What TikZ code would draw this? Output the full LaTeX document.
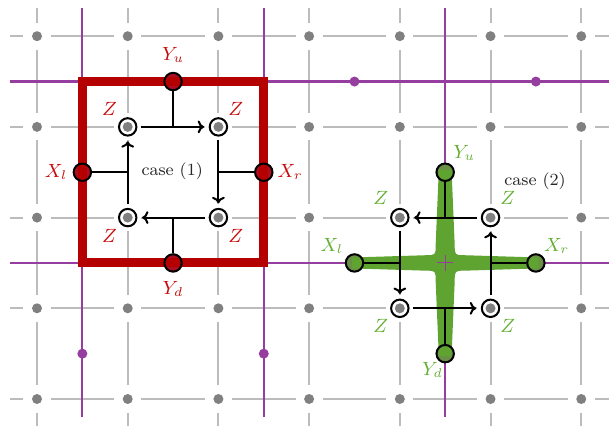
\documentclass[tikz,border=0pt]{standalone}
\usetikzlibrary{arrows.meta}
\definecolor{gridgray}{RGB}{188,188,188}
\definecolor{dotgray}{RGB}{128,128,128}
\definecolor{purp}{RGB}{150,62,160}
\definecolor{darkred}{RGB}{180,0,0}
\definecolor{labred}{RGB}{200,10,10}
\definecolor{crossgreen}{RGB}{95,163,48}
\definecolor{labgreen}{RGB}{100,175,50}
\tikzset{
  gridline/.style={draw=gridgray,line width=0.95pt},
  gdot/.style={circle,fill=dotgray,inner sep=0pt,minimum size=4.7pt},
  purpline/.style={draw=purp,line width=1pt},
  pdot/.style={circle,fill=purp,inner sep=0pt,minimum size=4.7pt},
  pfill/.style={circle,inner sep=0pt,minimum size=8.2pt},
  ring/.style={circle,draw=black,line width=0.95pt,inner sep=0pt,minimum size=8.2pt},
  tline/.style={draw=black,line width=0.95pt},
  arr/.style={draw=black,line width=0.95pt,-{To[length=3pt,width=6pt]},shorten <=1.6pt,shorten >=2.2pt},
  labr/.style={text=labred,font=\small,inner sep=0pt},
  labg/.style={text=labgreen,font=\small,inner sep=0pt},
  casetxt/.style={text=black!85,font=\footnotesize,inner sep=0pt}
}
\begin{document}
\begin{tikzpicture}[x=1.5cm,y=1.5cm]
\useasboundingbox (-0.408,-0.320) rectangle (6.306,4.399);
% gray grid
\foreach \i in {0,...,6} {
  \foreach \j in {0,...,3} { \draw[gridline] (\i,\j+0.15) -- (\i,\j+0.85); }
  \draw[gridline] (\i,-0.3) -- (\i,-0.15);
  \draw[gridline] (\i,4.15) -- (\i,4.31);
}
\foreach \j in {0,...,4} {
  \foreach \i in {0,...,5} { \draw[gridline] (\i+0.15,\j) -- (\i+0.85,\j); }
  \draw[gridline] (-0.3,\j) -- (-0.15,\j);
  \draw[gridline] (6.15,\j) -- (6.31,\j);
}
\foreach \i in {0,...,6} { \foreach \j in {0,...,4} { \node[gdot] at (\i,\j) {}; } }
% purple lines
\draw[purpline] (0.5,-0.2) -- (0.5,4.31);
\draw[purpline] (2.5,-0.2) -- (2.5,4.31);
\draw[purpline] (4.5,-0.2) -- (4.5,4.31);
\draw[purpline] (-0.3,1.5) -- (6.31,1.5);
\draw[purpline] (-0.3,3.5) -- (6.31,3.5);
\node[pdot] at (0.5,0.5) {};
\node[pdot] at (2.5,0.5) {};
\node[pdot] at (3.5,3.5) {};
\node[pdot] at (5.5,3.5) {};
% fills under X/Y rings
\foreach \p in {(1.5,3.5),(0.5,2.5),(2.5,2.5),(1.5,1.5)} { \node[pfill,fill=darkred!80!purp] at \p {}; }
\foreach \p in {(4.5,2.5),(3.5,1.5),(5.5,1.5),(4.5,0.5)} { \node[pfill,fill=crossgreen!80!purp] at \p {}; }
% case 1 red square
\draw[draw=darkred,line width=4.2pt] (0.5,1.5) rectangle (2.5,3.5);
% case 2 green cross
\begin{scope}[shift={(4.5,1.5)}]
\fill[crossgreen] (-1.03,0.06) -- (-0.22,0.085) .. controls (-0.105,0.085) .. (-0.105,0.2) -- (-0.07,1.03) -- (0.07,1.03) -- (0.105,0.2) .. controls (0.105,0.085) .. (0.22,0.085) -- (1.03,0.06) -- (1.03,-0.06) -- (0.22,-0.085) .. controls (0.105,-0.085) .. (0.105,-0.2) -- (0.07,-1.03) -- (-0.07,-1.03) -- (-0.105,-0.2) .. controls (-0.105,-0.085) .. (-0.22,-0.085) -- (-1.03,-0.06) -- cycle;
\draw[draw=purp,line width=0.5pt] (-0.09,0) -- (0.09,0) (0,-0.09) -- (0,0.09);
\end{scope}
% case 1 nodes
\node[ring] (yu1) at (1.5,3.5) {};
\node[ring] (xl1) at (0.5,2.5) {};
\node[ring] (xr1) at (2.5,2.5) {};
\node[ring] (yd1) at (1.5,1.5) {};
\node[ring] (z13) at (1,3) {};
\node[ring] (z23) at (2,3) {};
\node[ring] (z12) at (1,2) {};
\node[ring] (z22) at (2,2) {};
% case 2 nodes
\node[ring] (yu2) at (4.5,2.5) {};
\node[ring] (xl2) at (3.5,1.5) {};
\node[ring] (xr2) at (5.5,1.5) {};
\node[ring] (yd2) at (4.5,0.5) {};
\node[ring] (z42) at (4,2) {};
\node[ring] (z52) at (5,2) {};
\node[ring] (z41) at (4,1) {};
\node[ring] (z51) at (5,1) {};
% case 1 connectors
\draw[tline] (yu1) -- (yu1 |- z13);
\draw[tline] (xr1) -- (xr1 -| z23);
\draw[tline] (yd1) -- (yd1 |- z12);
\draw[tline] (xl1) -- (xl1 -| z12);
\draw[arr] (z13) -- (z23);
\draw[arr] (z23) -- (z22);
\draw[arr] (z22) -- (z12);
\draw[arr] (z12) -- (z13);
% case 2 connectors
\draw[tline] (yu2) -- (yu2 |- z42);
\draw[tline] (xl2) -- (xl2 -| z42);
\draw[tline] (xr2) -- (xr2 -| z52);
\draw[tline] (yd2) -- (yd2 |- z41);
\draw[arr] (z52) -- (z42);
\draw[arr] (z42) -- (z41);
\draw[arr] (z41) -- (z51);
\draw[arr] (z51) -- (z52);
% case 1 labels
\node[labr] (lyu1) at (1.5,3.79) {$Y_u$};
\node[labr] (lz13) at (0.80,3.20) {$Z$};
\node[labr] (lz23) at (2.19,3.20) {$Z$};
\node[labr] (lxl1) at (0.21,2.50) {$X_l$};
\node[labr] (lxr1) at (2.79,2.50) {$X_r$};
\node[labr] (lz12) at (0.80,1.80) {$Z$};
\node[labr] (lz22) at (2.19,1.80) {$Z$};
\node[labr] (lyd1) at (1.5,1.21) {$Y_d$};
\node[casetxt] (c1) at (1.49,2.51) {case (1)};
% case 2 labels
\node[labg] (lyu2) at (4.71,2.71) {$Y_u$};
\node[casetxt] (c2) at (5.49,2.40) {case (2)};
\node[labg] (lz42) at (3.79,2.22) {$Z$};
\node[labg] (lz52) at (5.19,2.22) {$Z$};
\node[labg] (lxl2) at (3.25,1.69) {$X_l$};
\node[labg] (lxr2) at (5.73,1.69) {$X_r$};
\node[labg] (lz41) at (3.79,0.80) {$Z$};
\node[labg] (lz51) at (5.19,0.80) {$Z$};
\node[labg] (lyd2) at (4.36,0.32) {$Y_d$};
\end{tikzpicture}
\end{document}
